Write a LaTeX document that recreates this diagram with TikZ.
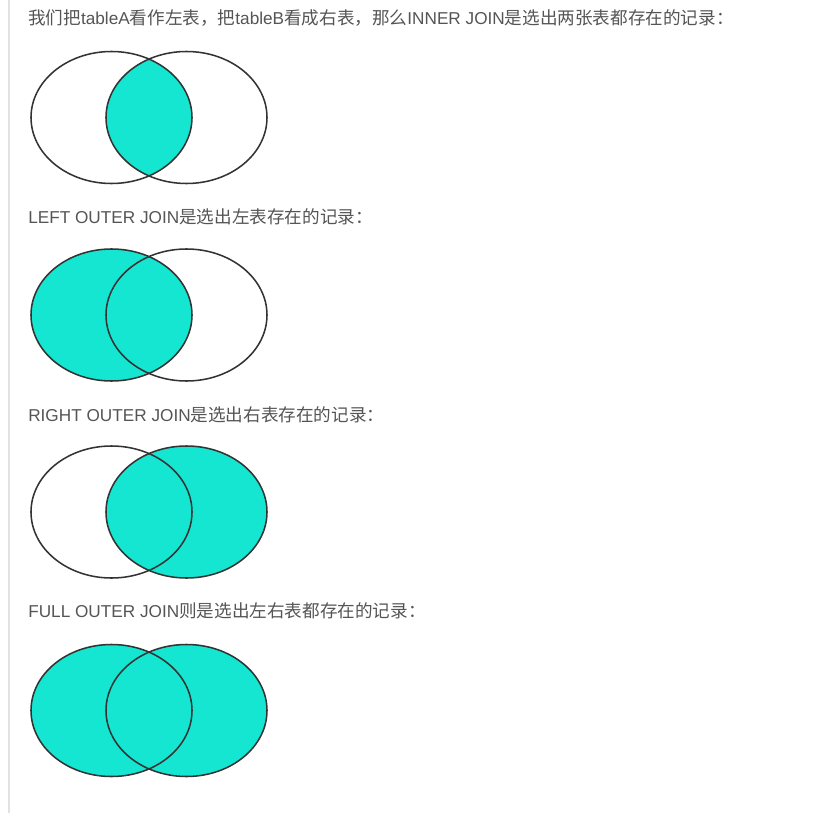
\documentclass[tikz,border=0pt]{standalone}
\usepackage{fontspec}
\setmainfont{Liberation Sans}
\newfontfamily\cjk{Noto Sans CJK SC}
\definecolor{txt}{HTML}{555555}
\definecolor{teal}{RGB}{20,230,210}
\definecolor{edge}{HTML}{333333}
\definecolor{rule}{HTML}{E2E2E2}
\newcommand{\C}[1]{{\cjk\fontsize{13.2pt}{15pt}\selectfont #1}}
\tikzset{
  lbl/.style={anchor=west,inner sep=0pt,text=txt,font=\fontsize{12.9pt}{15pt}\selectfont},
  vout/.style={draw=edge,line width=1.15pt},
  vfill/.style={fill=teal}
}
\begin{document}
\begin{tikzpicture}[x=0.75pt,y=-0.75pt]
\useasboundingbox (0,0) rectangle (835,813);
\fill[white] (0,0) rectangle (835,813);
\draw[rule,line width=1.5pt] (9,0) -- (9,813);
% texts
\node[lbl] (t1) at (28,18.5) {\C{我们把}tableA\C{看作左表，把}tableB\C{看成右表，那么}INNER JOIN\C{是选出两张表都存在的记录：}};
\node[lbl] (t2) at (28,217) {LEFT OUTER JOIN\C{是选出左表存在的记录：}};
\node[lbl] (t3) at (28,415) {RIGHT OUTER JOIN\C{是选出右表存在的记录：}};
\node[lbl] (t4) at (28,611) {FULL OUTER JOIN\C{则是选出左右表都存在的记录：}};
% diagram 1: inner
\begin{scope}
  \clip (111.5,117.5) ellipse [x radius=60.375pt, y radius=49.5pt];
  \fill[vfill] (186.5,117.5) ellipse [x radius=60.375pt, y radius=49.5pt];
\end{scope}
\draw[vout] (111.5,117.5) ellipse [x radius=60.375pt, y radius=49.5pt];
\draw[vout] (186.5,117.5) ellipse [x radius=60.375pt, y radius=49.5pt];
% diagram 2: left
\fill[vfill] (111.5,315) ellipse [x radius=60.375pt, y radius=49.5pt];
\draw[vout] (111.5,315) ellipse [x radius=60.375pt, y radius=49.5pt];
\draw[vout] (186.5,315) ellipse [x radius=60.375pt, y radius=49.5pt];
% diagram 3: right
\fill[vfill] (186.5,512) ellipse [x radius=60.375pt, y radius=49.5pt];
\draw[vout] (111.5,512) ellipse [x radius=60.375pt, y radius=49.5pt];
\draw[vout] (186.5,512) ellipse [x radius=60.375pt, y radius=49.5pt];
% diagram 4: full
\fill[vfill] (111.5,710.5) ellipse [x radius=60.375pt, y radius=49.5pt];
\fill[vfill] (186.5,710.5) ellipse [x radius=60.375pt, y radius=49.5pt];
\draw[vout] (111.5,710.5) ellipse [x radius=60.375pt, y radius=49.5pt];
\draw[vout] (186.5,710.5) ellipse [x radius=60.375pt, y radius=49.5pt];
\end{tikzpicture}
\end{document}
